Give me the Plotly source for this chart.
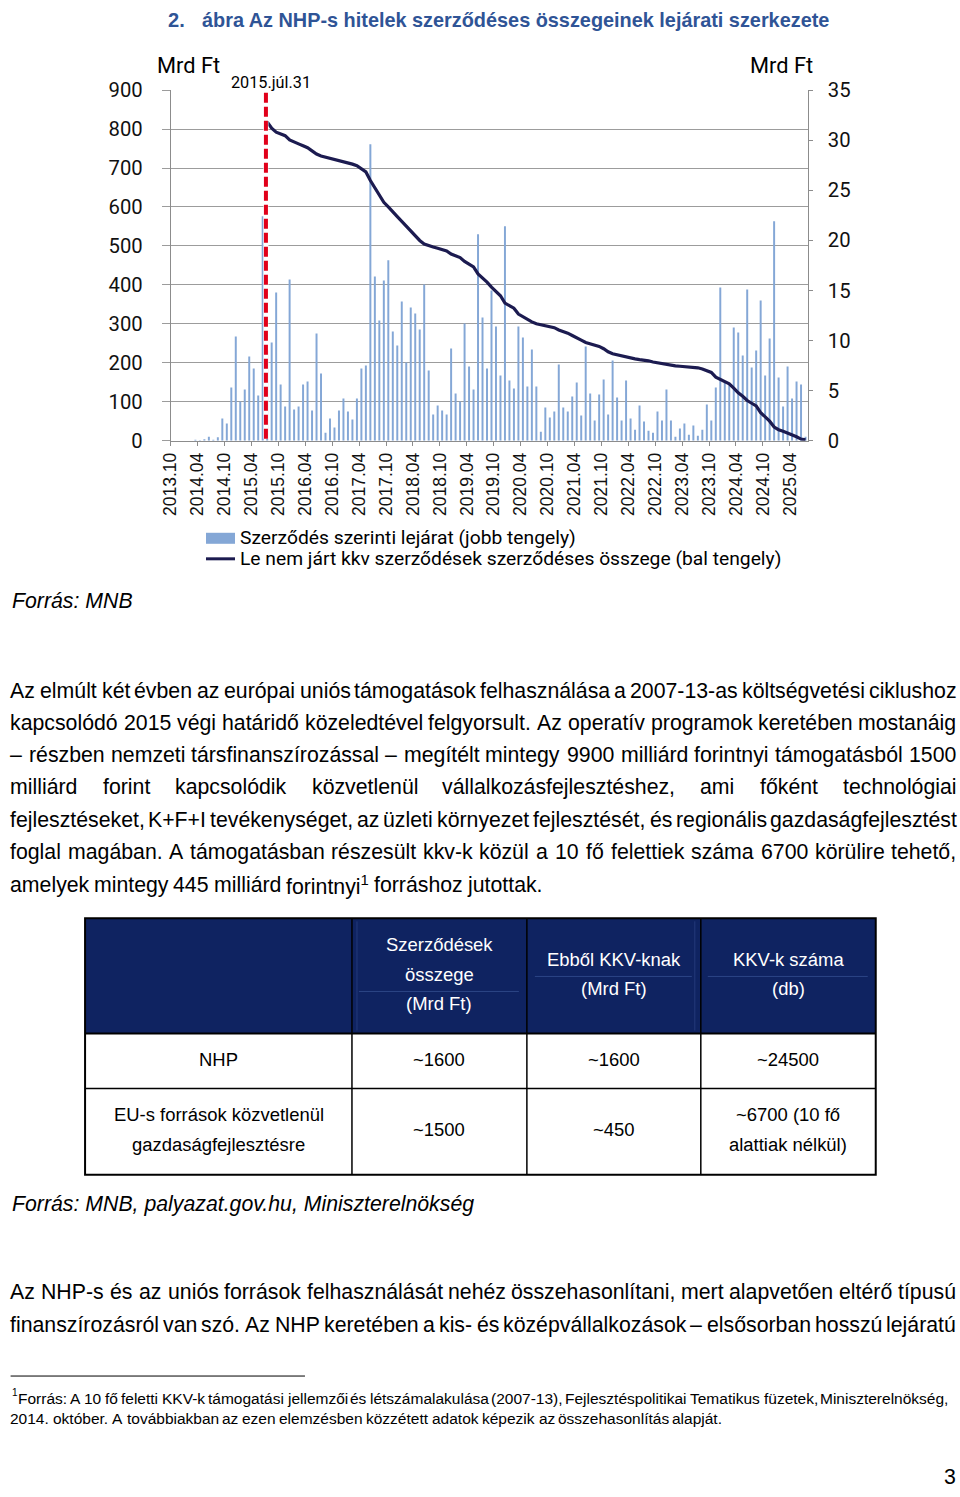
import re
import plotly.graph_objects as go

W, H = 960, 1497

# ---------------- data ----------------
tick_labels = ["2013.10", "2014.04", "2014.10", "2015.04", "2015.10", "2016.04",
               "2016.10", "2017.04", "2017.10", "2018.04", "2018.10", "2019.04",
               "2019.10", "2020.04", "2020.10", "2021.04", "2021.10", "2022.04",
               "2022.10", "2023.04", "2023.10", "2024.04", "2024.10", "2025.04"]

months = []
_y, _m = 2013, 10
while (_y, _m) <= (2025, 7):
    months.append(f"{_y}.{_m:02d}")
    _m += 1
    if _m > 12:
        _y, _m = _y + 1, 1

# Szerződés szerinti lejárat (jobb tengely, Mrd Ft), monthly 2013.10 - 2025.07
maturity = [0, 0, 0, 0, 0, 0.1, 0.05, 0.15, 0.4, 0.1, 0.35, 2.2, 1.7, 5.3, 10.4, 3.9, 5.1, 8.4, 7.2, 4.5,
            22.4, 9.0, 9.8, 14.8, 5.6, 3.4, 16.1, 3.1, 3.4, 5.6, 5.9, 3.0, 10.7, 6.7, 0.8, 2.2, 1.3, 3.0, 4.2, 2.9,
            2.1, 4.2, 7.2, 7.5, 29.6, 16.4, 12.0, 16.0, 18.0, 10.9, 9.5, 13.9, 7.8, 13.3, 12.7, 11.1, 15.6, 7.0, 2.6, 3.5,
            3.0, 2.6, 9.2, 4.7, 3.9, 11.7, 7.4, 5.1, 20.6, 12.3, 7.2, 15.0, 11.4, 6.5, 21.4, 6.0, 5.2, 11.4, 10.3, 5.4,
            9.1, 5.4, 0.9, 3.3, 2.3, 2.9, 7.6, 3.3, 2.9, 4.4, 5.8, 2.5, 9.4, 4.7, 2.0, 4.6, 6.1, 2.6, 8.0, 4.3,
            2.0, 6.0, 2.2, 1.1, 3.5, 1.9, 1.0, 0.8, 2.9, 2.0, 5.1, 2.0, 0.4, 1.2, 1.7, 0.6, 1.5, 0.5, 1.1, 3.6,
            2.0, 5.3, 15.3, 5.8, 5.6, 11.3, 10.8, 8.5, 15.1, 7.3, 9.0, 14.0, 6.5, 10.2, 21.9, 6.3, 3.4, 7.4, 4.2, 5.9,
            5.6, 0.4]

# Le nem járt kkv szerződések szerződéses összege (bal tengely, Mrd Ft), from 2015.07
outstanding_start = "2015.07"
outstanding = [818, 802, 792, 787, 783, 772, 766, 762, 757, 752,
               744, 736, 731, 728, 727, 724, 721, 717, 714, 710,
               706, 699, 690, 668, 648, 630, 612, 600, 586, 575,
               563, 550, 540, 527, 514, 505, 500, 497, 494, 490,
               487, 479, 474, 470, 460, 453, 446, 428, 418, 407,
               394, 383, 372, 353, 346, 340, 325, 318, 310, 305,
               300, 298, 295, 292, 290, 284, 281, 276, 270, 265,
               258, 252, 249, 246, 242, 236, 228, 223, 220, 218,
               214, 212, 210, 208, 207, 205, 202, 200, 197, 194,
               193, 192, 191, 190, 189, 189, 187, 184, 180, 175,
               163, 157, 152, 146, 135, 123, 114, 103, 96, 89,
               72, 62, 50, 35, 28, 24, 20, 15, 10, 4,
               2]

left_ticks = [0, 100, 200, 300, 400, 500, 600, 700, 800, 900]
right_ticks = [0, 5, 10, 15, 20, 25, 30, 35]
deadline_month = "2015.07"
deadline_label = "2015.júl.31"

series_bar_name = "Szerződés szerinti lejárat (jobb tengely)"
series_line_name = "Le nem járt kkv szerződések szerződéses összege (bal tengely)"

table_header = [["Szerződések", "összege", "(Mrd Ft)"], ["Ebből KKV-knak", "(Mrd Ft)"], ["KKV-k száma", "(db)"]]
table_rows = [
    [["NHP"], ["~1600"], ["~1600"], ["~24500"]],
    [["EU-s források közvetlenül", "gazdaságfejlesztésre"], ["~1500"], ["~450"], ["~6700 (10 fő", "alattiak nélkül)"]],
]

para1 = [
    "Az elmúlt két évben az európai uniós támogatások felhasználása a 2007-13-as költségvetési ciklushoz",
    "kapcsolódó 2015 végi határidő közeledtével felgyorsult. Az operatív programok keretében mostanáig",
    "– részben nemzeti társfinanszírozással – megítélt mintegy 9900 milliárd forintnyi támogatásból 1500",
    "milliárd forint kapcsolódik közvetlenül vállalkozásfejlesztéshez, ami főként technológiai",
    "fejlesztéseket, K+F+I tevékenységet, az üzleti környezet fejlesztését, és regionális gazdaságfejlesztést",
    "foglal magában. A támogatásban részesült kkv-k közül a 10 fő felettiek száma 6700 körülire tehető,",
    "amelyek mintegy 445 milliárd forintnyi<sup>1</sup> forráshoz jutottak.",
]
para2 = [
    "Az NHP-s és az uniós források felhasználását nehéz összehasonlítani, mert alapvetően eltérő típusú",
    "finanszírozásról van szó. Az NHP keretében a kis- és középvállalkozások – elsősorban hosszú lejáratú",
]
footnote = [
    "Forrás: A 10 fő feletti KKV-k támogatási jellemzői és létszámalakulása (2007-13), Fejlesztéspolitikai Tematikus füzetek, Miniszterelnökség,",
    "2014. október. A továbbiakban az ezen elemzésben közzétett adatok képezik az összehasonlítás alapját.",
]

# ---------------- helpers ----------------
# layout is written in reference-page pixels; converted to figure fractions here
SX, AXO = 0.990, 9.9
SY, AYO = 0.9825, 12.0
FK = 1 / 0.986


def X(r):
    return ((r - AXO) / SX) / W


def Y(r):
    return 1 - ((r - AYO) / SY) / H


# Arial / Liberation Sans advance widths (1/1000 em)
AW = {' ': 278, '.': 278, ',': 278, '-': 333, '–': 556, ':': 278, '(': 333, ')': 333,
      '+': 584, '~': 584, '/': 278}
AW.update(dict(zip("abcdefghijklmnopqrstuvwxyz",
                   [556, 556, 500, 556, 556, 278, 556, 556, 222, 222, 500, 222, 833, 556, 556, 556,
                    556, 333, 500, 278, 556, 500, 722, 500, 500, 500])))
AW.update(dict(zip("ABCDEFGHIJKLMNOPQRSTUVWXYZ",
                   [667, 667, 722, 722, 667, 611, 778, 722, 278, 500, 667, 556, 833, 722, 778, 667,
                    778, 722, 667, 611, 722, 667, 944, 667, 667, 611])))
for d in "0123456789":
    AW[d] = 556
AW.update({'á': 556, 'é': 556, 'í': 278, 'ó': 556, 'ö': 556, 'ő': 556, 'ú': 556, 'ü': 556, 'ű': 556})


def aw(s):
    tot = 0.0
    for part in re.split(r'(<sup>.*?</sup>)', s):
        if part.startswith('<sup>'):
            tot += 0.7 * sum(AW.get(c, 556) for c in part[5:-6])
        else:
            tot += sum(AW.get(c, 556) for c in part)
    return tot / 1000.0


ann = []
shapes = []

BODY_FONT = "Liberation Sans, Arial, sans-serif"
CHART_FONT = "Roboto"


def text(s, x, y, size, family=BODY_FONT, color="#000000", xanchor="left", yanchor="middle"):
    ann.append(dict(text=s, x=X(x), y=Y(y), xref="paper", yref="paper", xanchor=xanchor,
                    yanchor=yanchor, showarrow=False,
                    font=dict(family=family, size=size * FK, color=color)))


def line_words(line, y, x0, x1, size, justify, color="#000000"):
    words = line.split(" ")
    ws = [aw(w) * size for w in words]
    if justify and len(words) > 1:
        gap = (x1 - x0 - sum(ws)) / (len(words) - 1)
    else:
        gap = AW[' '] / 1000.0 * size
    x = x0
    for w, wd in zip(words, ws):
        text(w, x + wd / 2, y, size, xanchor="center", color=color)
        x += wd + gap


def hline(x0, x1, y, color, w):
    shapes.append(dict(type="line", xref="paper", yref="paper", x0=X(x0), x1=X(x1), y0=Y(y), y1=Y(y),
                       line=dict(color=color, width=w), layer="above"))


def vline(x, y0, y1, color, w):
    shapes.append(dict(type="line", xref="paper", yref="paper", x0=X(x), x1=X(x), y0=Y(y0), y1=Y(y1),
                       line=dict(color=color, width=w), layer="above"))


def rect(x0, y0, x1, y1, fill=None, lc=None, lw=0):
    shapes.append(dict(type="rect", xref="paper", yref="paper", x0=X(x0), x1=X(x1), y0=Y(y0), y1=Y(y1),
                       fillcolor=fill if fill else "rgba(0,0,0,0)",
                       line=dict(color=lc if lc else "rgba(0,0,0,0)", width=lw), layer="above"))


# ---------------- chart ----------------
BAR_C = "#84A7D6"
LINE_C = "#1C1B50"
GRID_C = "#9C9C9C"
AX_C = "#8C8C8C"

bar_x = list(range(len(months)))
i0 = months.index(outstanding_start)
line_x = list(range(i0, i0 + len(outstanding)))
tickpos = [months.index(t) - 0.5 for t in tick_labels]

fig = go.Figure()
fig.add_trace(go.Bar(x=bar_x, y=maturity, width=0.44, marker=dict(color=BAR_C, line=dict(width=0)),
                     name=series_bar_name, showlegend=False, yaxis="y"))
fig.add_trace(go.Scatter(x=line_x, y=outstanding, mode="lines", line=dict(color=LINE_C, width=3.2),
                         name=series_line_name, showlegend=False, yaxis="y2"))

plot_l, plot_r, plot_t, plot_b = 170.7, 808.0, 90.0, 440.0

fig.update_layout(
    width=W, height=H, autosize=False,
    margin=dict(l=0, r=0, t=0, b=0, pad=0),
    paper_bgcolor="white", plot_bgcolor="white",
    xaxis=dict(domain=[X(plot_l), X(plot_r)], range=[-0.5, len(months) - 0.5],
               tickmode="array", tickvals=tickpos, ticktext=tick_labels, tickangle=-90,
               ticks="outside", ticklen=4, tickcolor=AX_C, showline=True, linecolor=AX_C, linewidth=1,
               showgrid=False, zeroline=False, ticklabelstandoff=0,
               tickfont=dict(family="Liberation Sans", size=17.3 * FK, color="#111111")),
    yaxis=dict(domain=[Y(plot_b), Y(plot_t)], range=[0, 35], side="right",
               tickmode="array", tickvals=right_ticks, ticks="outside", ticklen=4, tickcolor=AX_C,
               showline=True, linecolor=AX_C, linewidth=1, showgrid=False, zeroline=False,
               ticklabelstandoff=11, tickfont=dict(family=CHART_FONT, size=20 * FK, color="#111111")),
    yaxis2=dict(overlaying="y", side="left", range=[0, 900], tickmode="array", tickvals=left_ticks,
                ticks="outside", ticklen=8, tickcolor=GRID_C, showline=True, linecolor=AX_C, linewidth=1,
                showgrid=True, gridcolor=GRID_C, gridwidth=1, zeroline=False,
                ticklabelstandoff=15, tickfont=dict(family=CHART_FONT, size=20 * FK, color="#111111")),
)

# deadline marker
dx = months.index(deadline_month) - 0.28
shapes.append(dict(type="line", xref="x", yref="paper", x0=dx, x1=dx, y0=Y(plot_b - 2), y1=Y(92),
                   line=dict(color="white", width=5), layer="above"))
shapes.append(dict(type="line", xref="x", yref="paper", x0=dx, x1=dx, y0=Y(plot_b - 2), y1=Y(92),
                   line=dict(color="#E1001A", width=4, dash="10px,4px"), layer="above"))
text(deadline_label, 271.5, 82, 16, family=CHART_FONT, xanchor="center")

text("Mrd Ft", 188.5, 65, 21.5, family=CHART_FONT, xanchor="center")
text("Mrd Ft", 781.5, 65, 21.5, family=CHART_FONT, xanchor="center")

# legend (drawn)
rect(206, 532, 235, 543, fill=BAR_C)
hline(206, 235, 558, LINE_C, 3)
text(series_bar_name, 238, 537, 19, family=CHART_FONT)
text(series_line_name, 238, 558, 19, family=CHART_FONT)

# ---------------- title ----------------
TITLE_C = "#2F5496"
text("<b>2.</b>", 166, 20, 19.8, color=TITLE_C)
text("<b>ábra Az NHP-s hitelek szerződéses összegeinek lejárati szerkezete</b>", 516, 20, 19.6,
     color=TITLE_C, xanchor="center")

# ---------------- sources & paragraphs ----------------
LEFT = 10.5
BODY = 21.0
text("<i>Forrás: MNB</i>", LEFT - 1, 600, BODY)

p1_y = [690, 722, 754, 786, 819, 851, 884]
for k, (ln, yy) in enumerate(zip(para1, p1_y)):
    line_words(ln, yy, LEFT, 956, BODY, justify=(k < len(para1) - 1))

text("<i>Forrás: MNB, palyazat.gov.hu, Miniszterelnökség</i>", LEFT - 1, 1202, BODY)

p2_y = [1290, 1323]
for ln, yy in zip(para2, p2_y):
    line_words(ln, yy, LEFT, 956, BODY, justify=True)

# footnote
hline(LEFT, 305, 1374, "#000000", 1)
text("1", LEFT - 1, 1390, 10)
FN = 15.3
line_words(footnote[0], 1396, 18, 948, FN, justify=True)
line_words(footnote[1], 1416, LEFT, 948, FN, justify=False)

text("3", 950, 1475, 21, xanchor="center")

# ---------------- table ----------------
NAVY = "#0F2361"
TL, TR, TT, TB = 85, 876, 917, 1173
cols = [85, 352, 527, 701, 876]
row_y = [917, 1032, 1087, 1173]
rect(TL, TT, TR, row_y[1], fill=NAVY)
# faint inner header lines
hline(359, 519, 990, "#2C4585", 1)
hline(535, 692, 975, "#2C4585", 1)
hline(708, 868, 975, "#2C4585", 1)
vline(357, 920, 1029, "#24397A", 1)
vline(695, 920, 1029, "#24397A", 1)
# grid
for cx in cols[1:-1]:
    vline(cx, TT, TB, "#000000", 1.5)
hline(TL, TR, row_y[1], "#000000", 2)
hline(TL, TR, row_y[2], "#000000", 1.5)
rect(TL, TT, TR, TB, lc="#000000", lw=2)

TSZ = 18.2
centers = [(cols[i] + cols[i + 1]) / 2 for i in range(4)]
hdr_y = {3: [943, 973, 1002], 2: [958, 987]}
for ci, lines in enumerate(table_header, start=1):
    ys = hdr_y[len(lines)]
    for ln, yy in zip(lines, ys):
        text(ln, centers[ci], yy, TSZ, color="white", xanchor="center")
row_line_y = {0: {1: [1058]}, 1: {1: [1128], 2: [1113, 1143]}}
for ri, row in enumerate(table_rows):
    for ci, lines in enumerate(row):
        ys = row_line_y[ri][len(lines)]
        for ln, yy in zip(lines, ys):
            text(ln, centers[ci], yy, TSZ, xanchor="center")

fig.update_layout(annotations=ann, shapes=shapes)

fig.write_html("out.html", include_plotlyjs=True, full_html=True,
               config={"displayModeBar": False, "staticPlot": True},
               post_script="document.body.style.margin='0';document.body.style.overflow='hidden';")
